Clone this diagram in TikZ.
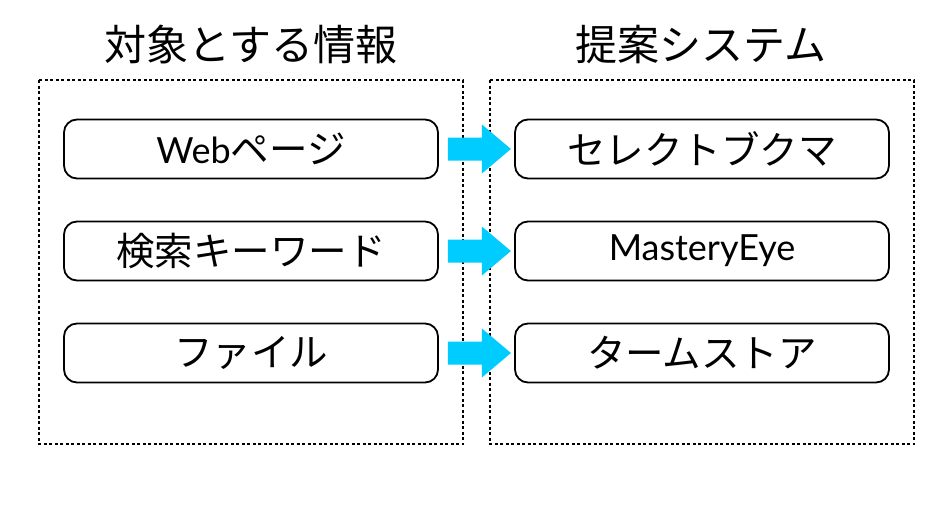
\documentclass[tikz,border=0pt]{standalone}
\usepackage{fontspec}
\setmainfont{Noto Sans CJK JP}
\newfontfamily\latinfont{Lato}
\newcommand{\lat}[1]{{\fontsize{36}{40}\selectfont\latinfont #1}}
\begin{document}
\begin{tikzpicture}[x=1pt,y=-1pt,
  frame/.style={draw=black,line width=1.3pt,dash pattern=on 3pt off 2.5pt},
  itembox/.style={draw=black,line width=1.8pt,rounded corners=13pt,minimum width=374pt,minimum height=59pt,inner sep=0pt,font=\fontsize{38.5}{42}\selectfont},
  title/.style={font=\fontsize{42}{46}\selectfont,inner sep=0pt},
  bigarrow/.style={fill=arrowcyan,draw=none}
]
\definecolor{arrowcyan}{HTML}{00CCFF}
\path[use as bounding box] (0,0) rectangle (952,511);
\fill[white] (0,0) rectangle (952,511);
\node[title] (t1) at (251,45) {対象とする情報};
\node[title] (t2) at (701,45) {提案システム};
\draw[frame] (39,80) rectangle (463,444);
\draw[frame] (490,80) rectangle (914,444);
\node[itembox] (l1) at (251,149) {\lat{Web}ページ};
\node[itembox] (l2) at (251,251) {検索キーワード};
\node[itembox] (l3) at (251,353) {ファイル};
\node[itembox] (r1) at (702,149) {セレクトブクマ};
\node[itembox] (r2) at (702,251) {\lat{MasteryEye}};
\node[itembox] (r3) at (702,353) {タームストア};
\foreach \a/\b in {l1/r1,l2/r2,l3/r3}{
  \path (\a.east) ++(9,0) coordinate (s\a);
  \fill[bigarrow] (s\a) ++(0,-11.5) -- ++(34,0) -- ++(0,-13) -- ++(29,24.5) -- ++(-29,24.5) -- ++(0,-13) -- ++(-34,0) -- cycle;
}
\end{tikzpicture}
\end{document}
